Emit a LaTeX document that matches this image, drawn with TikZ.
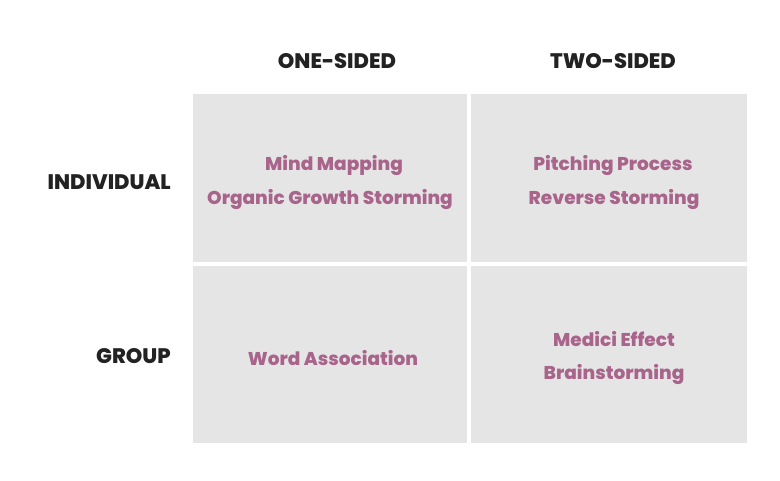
\documentclass[tikz,border=0pt]{standalone}
\usepackage{fontspec}
\setmainfont{Poppins}[BoldFont={* ExtraBold}]
\definecolor{cellgray}{HTML}{E5E5E5}
\definecolor{itempink}{HTML}{A8648A}
\definecolor{headblack}{HTML}{222222}
\tikzset{
  cell/.style={fill=cellgray, draw=none},
  head/.style={text=headblack, font=\bfseries\fontsize{21}{24}\selectfont, inner sep=0pt},
  item/.style={text=itempink, font=\bfseries\fontsize{18.5}{21}\selectfont, inner sep=0pt},
}
\begin{document}
\begin{tikzpicture}[x=1pt,y=-1pt]
\useasboundingbox (0,0) rectangle (780,481);
\fill[white] (0,0) rectangle (780,481);
% cells
\path[cell] (193,94) rectangle (467,262);
\path[cell] (471,94) rectangle (747,262);
\path[cell] (193,266) rectangle (467,443);
\path[cell] (471,266) rectangle (747,443);
% headers
\node[head] (one) at (337,61) {ONE-SIDED};
\node[head] (two) at (613,61) {TWO-SIDED};
\node[head, anchor=east] (ind) at (171,182) {INDIVIDUAL};
\node[head, anchor=east] (grp) at (171,356) {GROUP};
% items
\node[item] (mm) at (334,166) {Mind Mapping};
\node[item] (og) at (330,200) {Organic Growth Storming};
\node[item] (pp) at (613,166) {Pitching Process};
\node[item] (rs) at (614,200) {Reverse Storming};
\node[item] (wa) at (333,358) {Word Association};
\node[item] (me) at (614,339) {Medici Effect};
\node[item] (bs) at (614,375) {Brainstorming};
\end{tikzpicture}
\end{document}
